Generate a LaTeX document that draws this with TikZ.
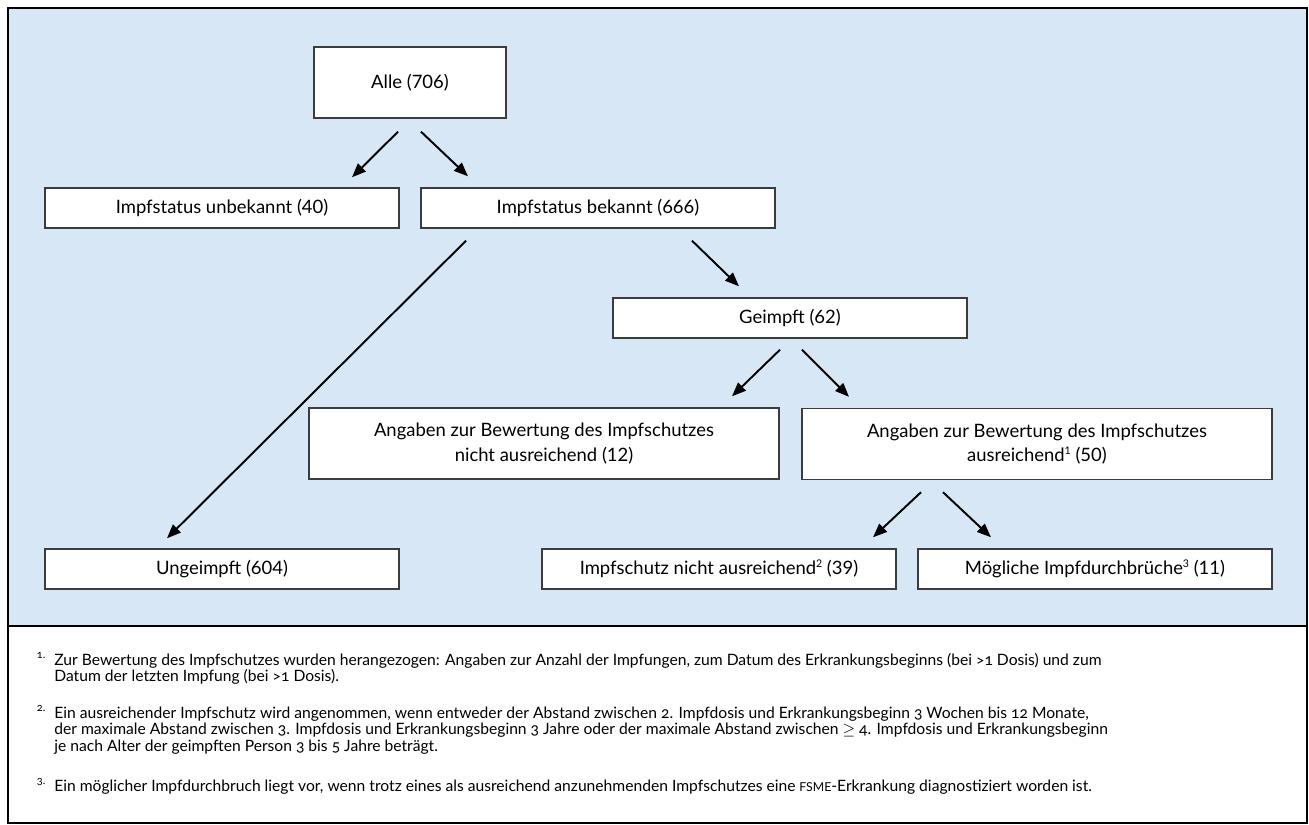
\documentclass[tikz,border=0pt]{standalone}
\usepackage{fontspec}
\setmainfont{Lato}
\newfontfamily\notefont{Lato}[Numbers=OldStyle]
\usepackage{tikz}
\usetikzlibrary{arrows.meta, calc}

\definecolor{panelblue}{RGB}{216,231,245}
\definecolor{boxline}{RGB}{60,60,60}
\newcommand{\refmark}[1]{\raisebox{0.8ex}{\fontsize{6}{6}\selectfont #1}}

\begin{document}
\begin{tikzpicture}[
    box/.style={draw=boxline, line width=0.8pt, fill=white, align=center, inner sep=0pt, minimum width=7.08cm, minimum height=0.8cm, font=\fontsize{10.5}{13.8}\selectfont},
    tallbox/.style={box, minimum width=9.4cm, minimum height=1.42cm},
    arrow/.style={-{Triangle[length=2.8mm, width=2.2mm]}, line width=1.1pt},
    note/.style={anchor=north west, align=left, inner sep=0pt, font=\notefont\fontsize{8.9}{9.5}\selectfont},
]
\useasboundingbox (0,0) rectangle (26.18,-16.48);

% Panel and frame
\fill[panelblue] (0.16,-0.16) rectangle (26.14,-12.52);
\draw[line width=1pt] (0.16,-12.52) -- (26.14,-12.52);
\draw[line width=1pt] (0.16,-0.16) rectangle (26.14,-16.46);

% Boxes, top to bottom
\node[box, minimum width=3.84cm, minimum height=1.42cm] (alle) at (8.2,-1.65) {Alle (706)};
\node[box] (unbek) at (4.44,-4.16) {Impfstatus unbekannt (40)};
\node[box] (bek) at (11.96,-4.16) {Impfstatus bekannt (666)};
\node[box] (geimpft) at (15.8,-6.36) {Geimpft (62)};
\node[tallbox] (angN) at (10.88,-8.87) {Angaben zur Bewertung des Impfschutzes\\nicht ausreichend (12)};
\node[tallbox] (angA) at (20.74,-8.88) {Angaben zur Bewertung des Impfschutzes\\ausreichend\refmark{1} (50)};
\node[box] (unge) at (4.44,-11.38) {Ungeimpft (604)};
\node[box] (schN) at (14.38,-11.38) {Impfschutz nicht ausreichend\refmark{2} (39)};
\node[box] (moegl) at (21.9,-11.38) {Mögliche Impfdurchbrüche\refmark{3} (11)};

% Arrows
\draw[arrow] ($(alle.south)+(-0.24,-0.26)$) -- ($(unbek.north)+(2.6,0.2)$);
\draw[arrow] ($(alle.south)+(0.22,-0.26)$) -- ($(bek.north)+(-2.6,0.22)$);
\draw[arrow] ($(bek.south)+(-2.64,-0.24)$) -- ($(unge.north)+(-1.1,0.2)$);
\draw[arrow] ($(bek.south)+(1.88,-0.24)$) -- ($(geimpft.north)+(-1.02,0.22)$);
\draw[arrow] ($(geimpft.south)+(-0.2,-0.22)$) -- ($(angN.north)+(3.76,0.22)$);
\draw[arrow] ($(geimpft.south)+(0.24,-0.22)$) -- ($(angA.north)+(-3.76,0.22)$);
\draw[arrow] ($(angA.south)+(-2.32,-0.24)$) -- ($(schN.north)+(3.08,0.22)$);
\draw[arrow] ($(angA.south)+(-1.88,-0.24)$) -- ($(moegl.north)+(-2.08,0.22)$);

% Footnotes
\node[note] (fn1) at (1.08,-13.04) {\llap{\textsuperscript{1.}\hspace{1.6mm}}Zur Bewertung des Impfschutzes wurden herangezogen: Angaben zur Anzahl der Impfungen, zum Datum des Erkrankungsbeginns (bei >1 Dosis) und zum\\Datum der letzten Impfung (bei >1 Dosis).};
\node[note] (fn2) at (1.08,-14.1) {\llap{\textsuperscript{2.}\hspace{1.6mm}}Ein ausreichender Impfschutz wird angenommen, wenn entweder der Abstand zwischen 2. Impfdosis und Erkrankungsbeginn 3 Wochen bis 12 Monate,\\der maximale Abstand zwischen 3. Impfdosis und Erkrankungsbeginn 3 Jahre oder der maximale Abstand zwischen $\geq$ 4. Impfdosis und Erkrankungsbeginn\\je nach Alter der geimpften Person 3 bis 5 Jahre beträgt.};
\node[note] (fn3) at (1.08,-15.56) {\llap{\textsuperscript{3.}\hspace{1.6mm}}Ein möglicher Impfdurchbruch liegt vor, wenn trotz eines als ausreichend anzunehmenden Impfschutzes eine {\fontsize{7}{8}\selectfont FSME}-Erkrankung diagnostiziert worden ist.};

\end{tikzpicture}
\end{document}
